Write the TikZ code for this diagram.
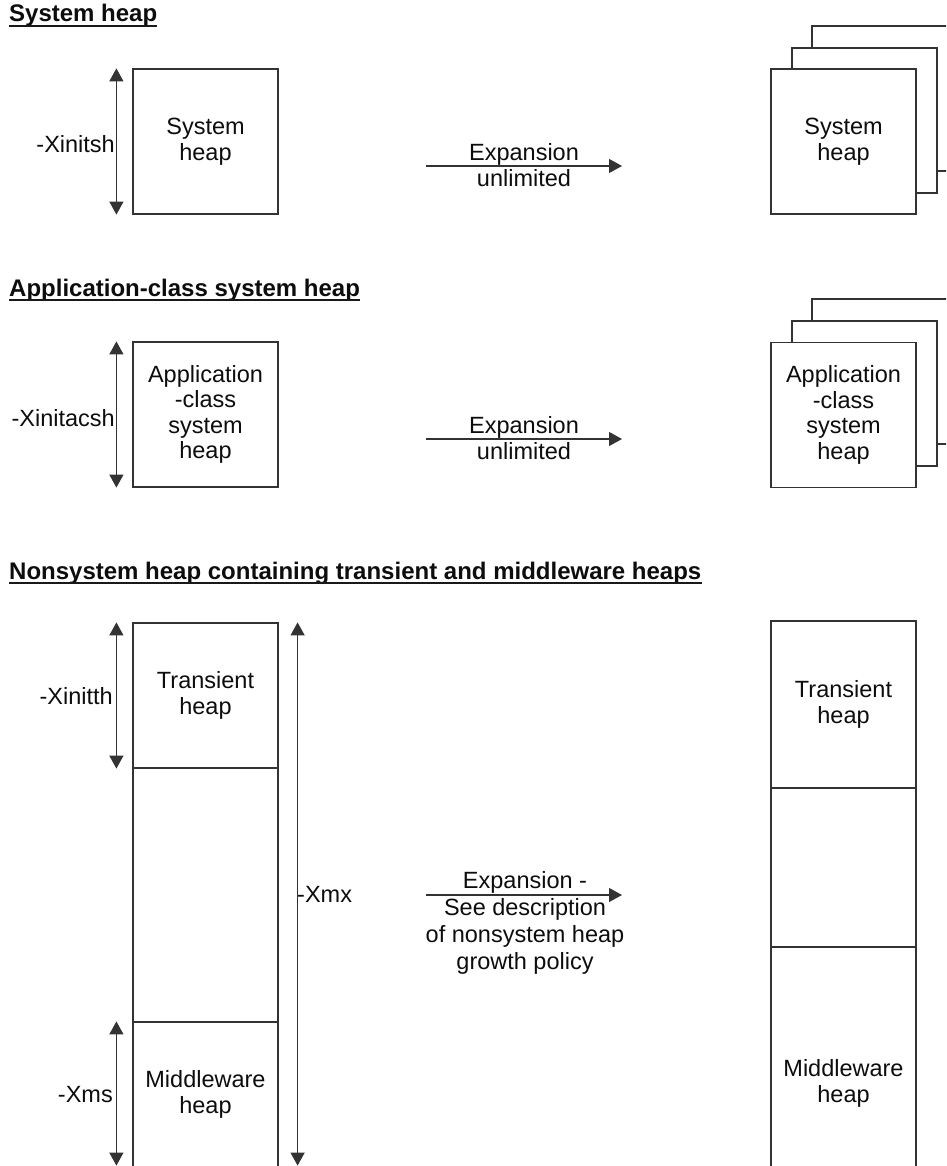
\documentclass[tikz,border=0pt]{standalone}
\usepackage{fontspec}
\setmainfont{Liberation Sans}
\usetikzlibrary{arrows.meta}
\begin{document}
\begin{tikzpicture}[x=1pt,y=-1pt,
  line/.style={draw=black!80, line width=1.2pt},
  heap/.style={line, fill=white, inner sep=0pt, minimum width=145pt,
    align=center, text=black!95, font=\fontsize{23.5}{25.5}\selectfont},
  title/.style={anchor=base west, inner sep=0pt, text=black!95,
    font=\fontsize{24}{28}\selectfont\bfseries},
  uline/.style={draw=black!90, line width=2pt},
  lbl/.style={inner sep=0pt, text=black!95, font=\fontsize{23.5}{26}\selectfont},
  note/.style={inner sep=0pt, align=center, text=black!95,
    font=\fontsize{23.5}{26}\selectfont},
  dimarrow/.style={line, {Triangle[length=13pt,width=14pt]}-{Triangle[length=13pt,width=14pt]}},
  growarrow/.style={line, -{Triangle[length=13pt,width=14pt]}}]
\useasboundingbox (0,0) rectangle (946,1166);
\clip (0,0) rectangle (946,1166);

% ---------- System heap ----------
\node[title] (t1) at (9,22) {System heap};
\draw[uline] ([yshift=-4pt]t1.base west) -- ([yshift=-4pt]t1.base east);

\node[heap, minimum height=145pt] (s1) at (205.5,141.5) {System\\heap};
\draw[dimarrow] ([xshift=-16pt]s1.north west) -- ([xshift=-16pt]s1.south west);
\node[lbl, anchor=base east] (l1) at (115,153) {-Xinitsh};

\coordinate (e1a) at (426,166);
\coordinate (e1b) at (622,166);
\draw[growarrow] (e1a) -- (e1b);
\node[note] (n1) at (524,165) {Expansion\\unlimited};

\node[heap, minimum height=145pt] (s1c) at (884.5,98.5) {};
\node[heap, minimum height=145pt] (s1b) at (864.5,120.5) {};
\node[heap, minimum height=145pt] (s1a) at (843.5,141.5) {System\\heap};

% ---------- Application-class system heap ----------
\node[title] (t2) at (9,296) {Application-class system heap};
\draw[uline] ([yshift=-4pt]t2.base west) -- ([yshift=-4pt]t2.base east);

\node[heap, minimum height=145pt] (s2) at (205.5,414.5) {Application\\-class\\system\\heap};
\draw[dimarrow] ([xshift=-16pt]s2.north west) -- ([xshift=-16pt]s2.south west);
\node[lbl, anchor=base east] (l2) at (115,426) {-Xinitacsh};

\coordinate (e2a) at (426,439);
\coordinate (e2b) at (622,439);
\draw[growarrow] (e2a) -- (e2b);
\node[note] (n2) at (524,438) {Expansion\\unlimited};

\node[heap, minimum height=145pt] (s2c) at (884.5,371.5) {};
\node[heap, minimum height=145pt] (s2b) at (864.5,393.5) {};
\node[heap, minimum height=145pt] (s2a) at (843.5,415) {Application\\-class\\system\\heap};

% ---------- Nonsystem heap ----------
\node[title] (t3) at (9,579) {Nonsystem heap containing transient and middleware heaps};
\draw[uline] ([yshift=-4pt]t3.base west) -- ([yshift=-4pt]t3.base east);

% initial layout
\node[heap, minimum height=145pt] (lt) at (205.5,695.5) {Transient\\heap};
\node[heap, minimum height=254pt] (lm) at (205.5,895) {};
\node[heap, minimum height=145pt] (lw) at (205.5,1094.5) {Middleware\\heap};

\draw[dimarrow] ([xshift=-16pt]lt.north west) -- ([xshift=-16pt]lt.south west);
\node[lbl, anchor=base east] (l3) at (113,704) {-Xinitth};
\draw[dimarrow, shorten >=2pt] ([xshift=-16pt]lw.north west) -- ([xshift=-16pt]lw.south west);
\node[lbl, anchor=base east] (l4) at (113,1102) {-Xms};
\draw[dimarrow, shorten >=2pt] ([xshift=19pt]lt.north east) -- ([xshift=19pt]lw.south east);
\node[lbl, anchor=base west] (l5) at (297,902) {-Xmx};

\coordinate (e3a) at (426,895);
\coordinate (e3b) at (622,895);
\draw[growarrow] (e3a) -- (e3b);
\node[note, font=\fontsize{23.5}{27}\selectfont] (n3) at (525,923)
  {Expansion -\\See description\\of nonsystem heap\\growth policy};

% expanded layout
\node[heap, minimum height=167pt] (rt) at (843.5,704.5) {Transient\\heap};
\node[heap, minimum height=159pt] (rm) at (843.5,867.5) {};
\node[heap, minimum height=273pt] (rw) at (843.5,1083.5) {Middleware\\heap};
\end{tikzpicture}
\end{document}
